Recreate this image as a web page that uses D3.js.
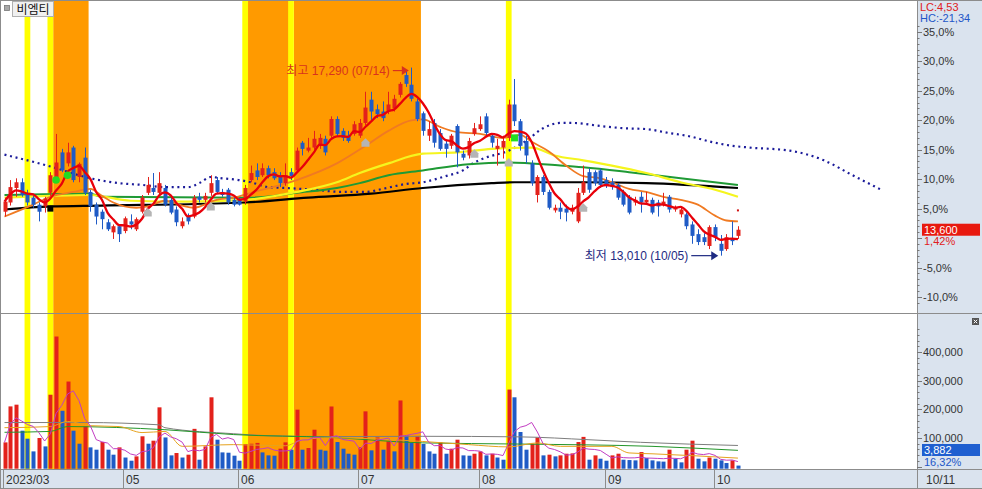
<!DOCTYPE html>
<html><head><meta charset="utf-8">
<script src="https://cdn.jsdelivr.net/npm/d3@7/dist/d3.min.js"></script>
<style>
html,body{margin:0;padding:0;background:#fff;overflow:hidden}
svg{display:block;font-family:"Liberation Sans","Noto Sans CJK KR",sans-serif}
</style></head><body>
<svg id="chart" width="982" height="489"></svg>
<script>
// ---------------- DATA ----------------
const stockName = "비엠티";
const candleOpen = [14010,14220,14550,14680,14440,14330,14170,14130,14440,14770,15360,15110,15470,14800,15240,14460,14170,14010,13770,13540,13680,13570,13790,13610,14010,14440,14550,14440,14550,14280,14060,13680,13900,13900,14350,14280,14440,14730,14460,14510,14280,14280,14240,14730,14950,14840,15000,14910,14840,14660,14910,14950,15580,15400,15470,15510,15670,15740,16120,15850,15740,15780,15740,16030,16560,16340,16290,16290,16360,16670,17120,16900,16520,16250,15740,16030,15800,15560,15510,15960,15330,15290,15780,15890,16180,15740,15440,15470,15690,16450,16070,15620,15110,14390,14800,14460,14040,14100,14080,14010,13790,14440,14910,14910,14950,14730,14680,14620,14460,14350,14220,14350,14220,14280,14220,14170,14350,14060,13950,13950,13720,13500,13430,13230,13660,13280,13160,13390,13460];
const candleHigh = [14330,14730,14770,14770,14510,14370,14220,14350,14910,15780,15440,15580,15510,15130,15470,14510,14220,14060,13840,13720,13720,13900,13950,13880,14390,14800,14890,14910,14620,14330,14130,13880,13970,14390,14440,14440,14840,14800,14530,14550,14330,14330,14620,15060,15110,15110,15060,15000,14910,15110,15000,15470,15620,15690,15850,15780,15740,16180,16180,15910,15850,16070,16120,16740,16740,16450,16520,16740,16670,16960,17230,17290,16580,16290,16070,16120,15890,15620,15780,16000,15400,15690,16030,16180,16250,15800,15670,15740,16560,17030,16120,15740,15180,14840,14840,14510,14170,14220,14170,14170,14550,15060,15000,14950,15000,14800,14770,14660,14510,14390,14350,14460,14460,14330,14280,14440,14390,14150,14100,13990,13790,13610,13520,13700,13720,13480,13500,13790,13680];
const candleLow = [13900,14150,14350,14350,14150,14100,13790,13990,14370,14730,14910,15040,14680,14680,14390,14010,13720,13610,13570,13390,13320,13520,13610,13570,13970,14390,14390,14390,14130,13950,13680,13630,13720,13860,14220,14220,14370,14420,14350,14170,14130,14150,14170,14680,14730,14800,14770,14730,14570,14600,14730,14910,15290,15360,15420,15440,15290,15690,15710,15620,15580,15740,15690,15980,16070,16140,16070,16230,16290,16610,16850,16520,16070,15740,15620,15470,15400,15240,15440,15020,15180,15220,15740,15850,15740,15470,15060,15220,15620,15960,15400,15110,14600,14220,14390,14060,13990,13840,13790,13950,13750,14390,14440,14600,14550,14550,14510,14280,14130,13950,14150,13990,14170,13950,13900,14130,13990,14010,13880,13610,13280,13250,13250,13160,13340,13010,13120,13250,13390];
const candleClose = [14240,14570,14680,14390,14220,14170,14010,14310,14840,15130,14950,15360,14730,15100,14440,14130,13900,13840,13610,13680,13500,13860,13720,13840,14330,14620,14460,14660,14170,13990,13770,13790,13790,14330,14280,14370,14660,14460,14390,14220,14170,14170,14550,14890,14800,15000,14840,14770,14660,14840,14820,15400,15440,15470,15670,15690,15360,16120,15780,15690,15620,16000,16030,16380,16290,16230,16140,16450,16580,16920,16920,16580,16120,15850,15890,15580,15440,15440,15740,15360,15240,15620,15910,16000,15800,15580,15510,15620,16450,16070,15510,15290,14660,14800,14460,14100,14100,14010,13990,14100,14440,14680,14510,14660,14620,14620,14570,14330,14170,13990,14280,14220,14280,13990,14130,14240,14060,14100,14060,13680,13460,13320,13320,13660,13430,13120,13430,13340,13600];
const volume = [84800,210300,216300,125600,97700,53400,100100,70800,251000,454000,195000,297000,125600,80200,140000,67400,59300,86000,59300,41900,67400,32000,20900,36000,106000,80200,90700,207000,102000,39500,47700,32000,41900,132000,24400,70800,242000,94200,49900,48800,38400,20900,79200,80100,83000,49900,39500,38400,62800,84800,59300,199000,59300,65100,129000,59300,55800,210000,86000,62800,45300,41900,67400,193000,57000,102000,59300,88400,53400,231000,109000,82600,106000,79200,53400,45300,84800,45300,62800,94200,39500,38400,45300,53400,39500,45300,32000,24400,269000,242000,121000,59300,80200,102000,39500,41900,36000,39500,45300,46400,86000,104000,24400,39500,27900,20900,39500,45300,24400,23200,22100,51100,30200,22100,18600,17700,59300,27900,15100,59300,90700,27900,18600,32000,27900,22100,12800,22100,3882];

// month ticks (trading-day index, label)
const monthTickIdx = [0,21,41,62,83,105,124];
const monthTickLabels = ["2023/03","05","06","07","08","09","10"];
const lastDateLabel = "10/11";

// moving averages (day index, price)
const ma20Idx = [0,5,8,12,15,17,19,23,25,28,31,33,37,40,43,51,58,63,67,71,73,76,79,83,87,90,92,95,98,101,104,106,109,112,115,118,121,124,126,128];
const ma20Val = [13900,14170,14350,14460,14530,14370,14220,14100,14130,14260,14150,14100,14280,14330,14440,14730,15110,15510,15850,16090,16110,15940,15820,15780,15690,15760,15600,15380,15060,14820,14770,14680,14530,14460,14350,14280,14170,13920,13810,13790];
const ma60Idx = [0,8,15,22,32,42,51,58,62,67,73,79,85,92,96,101,106,112,118,124,128];
const ma60Val = [14330,14370,14390,14260,14240,14280,14460,14680,14890,15110,15330,15360,15440,15470,15290,15180,15060,14890,14680,14510,14350];
const ma120Idx = [0,15,17,43,51,58,62,67,73,81,88,97,101,109,118,128];
const ma120Val = [14390,14420,14350,14330,14440,14550,14660,14840,14950,15090,15130,15060,15020,14910,14770,14620];
const ma240Idx = [0,8,17,42,53,64,73,85,89,101,112,128];
const ma240Val = [14060,14130,14150,14220,14330,14420,14550,14660,14680,14680,14660,14550];
const leadIdx = [0,8,15,20,24,28,32,34,36,38,41,43,46,49,54,59,63,66,70,73,77,80,82,84,88,91,94,97,99,104,108,112,116,119,124,127,130,137,143,148,153];
const leadVal = [15310,15040,14770,14660,14620,14570,14570,14660,14800,14770,14730,14680,14570,14550,14510,14460,14460,14530,14640,14680,14820,14950,15130,15240,15400,15620,15910,16030,16030,15960,15910,15890,15800,15740,15580,15510,15470,15400,15180,14840,14510];

// volume moving averages
const volGrayIdx = [0,14,27,28,40,46,57,73,90,102,111,128];
const volGrayVal = [154000,154000,146000,136000,115000,108000,105000,106000,104000,94000,85000,74000];
const volGreenIdx = [0,8,11,28,40,57,73,90,113,128];
const volGreenVal = [120000,123000,140000,129000,112000,102000,83000,79000,71000,57000];
const volGoldIdx = [0,8,11,15,20,24,28,31,40,49,52,57,73,81,88,93,97,106,109,113,128];
const volGoldVal = [136000,140000,158000,143000,140000,119000,123000,71000,77000,73000,94000,101000,88000,77000,69000,83000,71000,71000,48000,45000,30000];

// signal bands
const yellowBandIdx = [4,8,42,50,88];
const orangeBandStart = [9,43,51];
const orangeBandEnd = [14,49,72];

// markers
const greenDotIdx = [9,11], greenDotPrice = [14730,14840];
const greenSquareIdx = [89], greenSquarePrice = [15690];
const blackSquareIdx = [8], blackSquarePrice = [14080];
const grayArrowIdx = [25,36,63,82,88,101];
const grayArrowPrice = [13990,14130,15580,15330,15130,14100];
const redDotIdx = [128], redDotPrice = [14040];

// annotations / labels
const highIdx = 71, highPrice = 17290, highLabel = "최고 17,290 (07/14)";
const lowIdx = 125, lowPrice = 13010, lowLabel = "최저 13,010 (10/05)";
const basePrice = 13410;
const pctTicks = [-10,-5,0,5,10,15,20,25,30,35];
const volTicks = [100000,200000,300000,400000];
const lcLabel = "LC:4,53", hcLabel = "HC:-21,34";
const lastPriceLabel = "13,600", lastPctLabel = "1,42%";
const lastVolLabel = "3,882", lastVolPctLabel = "16,32%";

// ---------------- DRAW ----------------
const svg = d3.select("#chart");
const W = 982, H = 489, plotR = 917, mainTop = 1, mainBot = 313, volTop = 314, volBot = 469;
const panelBg = "#dae3ee";
const upC = "#e3211b", dnC = "#1f5bc6";

const x = d3.scaleLinear().domain([0,128]).range([4.5, 4.5+128*5.73]);
const step = x(1)-x(0);
const yPct = d3.scaleLinear().domain([-10,30]).range([297,61.3]);
const yP = p => yPct((p/basePrice-1)*100);
const yV = d3.scaleLinear().domain([0,400000]).range([466.7,352]);

svg.append("rect").attr("width",W).attr("height",H).attr("fill","#fff");

const defs = svg.append("defs");
defs.append("clipPath").attr("id","cm").append("rect").attr("x",1).attr("y",mainTop).attr("width",plotR-1).attr("height",mainBot-mainTop);
defs.append("clipPath").attr("id","cv").append("rect").attr("x",1).attr("y",volTop).attr("width",plotR-1).attr("height",volBot-volTop);

// bands
const bands = svg.append("g");
orangeBandStart.forEach((s,k)=>{
  bands.append("rect").attr("x",x(s)-step/2).attr("y",mainTop).attr("width",x(orangeBandEnd[k])-x(s)+step+1).attr("height",volBot-mainTop).attr("fill","#ff9a00");
});
yellowBandIdx.forEach(i=>{
  bands.append("rect").attr("x",x(i)-step/2).attr("y",mainTop).attr("width",step).attr("height",volBot-mainTop).attr("fill","#ffff00");
});

// panels background (axis)
svg.append("rect").attr("x",plotR).attr("y",0).attr("width",W-plotR).attr("height",H).attr("fill",panelBg);
svg.append("rect").attr("x",0).attr("y",volBot).attr("width",plotR).attr("height",H-volBot).attr("fill",panelBg);

// ---- main panel ----
const gm = svg.append("g").attr("clip-path","url(#cm)");
const pl = (idx, vals, yf) => d3.line().x((d,k)=>x(idx[k])).y((d,k)=>yf(vals[k])).curve(d3.curveMonotoneX)(vals);

gm.append("path").attr("d",pl(leadIdx,leadVal,yP)).attr("fill","none").attr("stroke","#1b1b9a").attr("stroke-width",2.2).attr("stroke-dasharray","2,3.7");
gm.append("path").attr("d",pl(ma240Idx,ma240Val,yP)).attr("fill","none").attr("stroke","#000").attr("stroke-width",2.2);
gm.append("path").attr("d",pl(ma120Idx,ma120Val,yP)).attr("fill","none").attr("stroke","#1f9a35").attr("stroke-width",2);
gm.append("path").attr("d",pl(ma60Idx,ma60Val,yP)).attr("fill","none").attr("stroke","#f5f51e").attr("stroke-width",2.2);
gm.append("path").attr("d",pl(ma20Idx,ma20Val,yP)).attr("fill","none").attr("stroke","#f07a22").attr("stroke-width",1.8);

// candles
const idxAll = d3.range(candleClose.length);
const cg = gm.append("g");
idxAll.forEach(i=>{
  const up = candleClose[i] >= candleOpen[i];
  const col = up ? upC : dnC;
  const cx = Math.round(x(i))+0.5;
  cg.append("line").attr("x1",cx).attr("x2",cx).attr("y1",yP(candleHigh[i])).attr("y2",yP(candleLow[i])).attr("stroke",col).attr("stroke-width",1);
  const y0 = yP(Math.max(candleOpen[i],candleClose[i])), y1 = yP(Math.min(candleOpen[i],candleClose[i]));
  cg.append("rect").attr("x",cx-2).attr("y",y0).attr("width",4).attr("height",Math.max(1.2,y1-y0)).attr("fill",col);
});

// MA5 from closes
const ma5 = idxAll.map(i=>d3.mean(candleClose.slice(Math.max(0,i-4),i+1)));
gm.append("path").attr("d",pl(idxAll,ma5,yP)).attr("fill","none").attr("stroke","#e8000a").attr("stroke-width",2.3);

// markers
greenDotIdx.forEach((i,k)=>gm.append("circle").attr("cx",x(i)).attr("cy",yP(greenDotPrice[k])).attr("r",3.8).attr("fill","#22dd22"));
greenSquareIdx.forEach((i,k)=>gm.append("rect").attr("x",x(i)-3.5).attr("y",yP(greenSquarePrice[k])-3.5).attr("width",7).attr("height",7).attr("fill","#22dd22"));
blackSquareIdx.forEach((i,k)=>gm.append("rect").attr("x",x(i)-3).attr("y",yP(blackSquarePrice[k])-3).attr("width",6).attr("height",6).attr("fill","#000"));
grayArrowIdx.forEach((i,k)=>gm.append("path").attr("d","M-4,4L-4,-0.5L0,-4.5L4,-0.5L4,4Z").attr("transform",`translate(${x(i)},${yP(grayArrowPrice[k])})`).attr("fill","#b5b5b5"));
redDotIdx.forEach((i,k)=>gm.append("rect").attr("x",x(i)-1).attr("y",yP(redDotPrice[k])-1).attr("width",2).attr("height",2).attr("fill","#d01010"));

// annotations
function annot(idx, price, label, col, dy, len){
  const tipX = x(idx)-2.5, ty = yP(price)+dy;
  const g = gm.append("g");
  g.append("line").attr("x1",tipX-len).attr("x2",tipX-6).attr("y1",ty).attr("y2",ty).attr("stroke",col).attr("stroke-width",1.2);
  g.append("path").attr("d",`M${tipX},${ty}L${tipX-7},${ty-4.5}L${tipX-7},${ty+4.5}Z`).attr("fill",col);
  g.append("text").attr("x",tipX-len-3).attr("y",ty).attr("text-anchor","end").attr("dominant-baseline","central").attr("font-size",12).attr("fill",col).text(label);
}
annot(highIdx, highPrice, highLabel, "#d8321e", 3, 16);
annot(lowIdx, lowPrice, lowLabel, "#1e2a82", 0, 27);

// name label
svg.append("rect").attr("x",4.5).attr("y",5.5).attr("width",5).attr("height",5).attr("fill","#a8a8a8").attr("stroke","#777").attr("stroke-width",0.8);
svg.append("rect").attr("x",12.5).attr("y",1.5).attr("width",41).attr("height",15).attr("fill","#f0f0f0").attr("stroke","#b0b0b0");
svg.append("text").attr("x",33).attr("y",9.5).attr("text-anchor","middle").attr("dominant-baseline","central").attr("font-size",12).attr("fill","#111").text(stockName);

// ---- volume panel ----
const gv = svg.append("g").attr("clip-path","url(#cv)");
idxAll.forEach(i=>{
  const up = i===0 ? true : volume[i] >= volume[i-1];
  const cx = Math.round(x(i))+0.5;
  gv.append("rect").attr("x",cx-2).attr("y",yV(volume[i])).attr("width",4).attr("height",Math.max(0.5,yV(0)-yV(volume[i])+2)).attr("fill",up?upC:dnC);
});
const vma5 = idxAll.map(i=>d3.mean(volume.slice(Math.max(0,i-4),i+1)));
const vl = (idx,vals,col)=>gv.append("path").attr("d",pl(idx,vals,yV)).attr("fill","none").attr("stroke",col).attr("stroke-width",1);
vl(volGrayIdx,volGrayVal,"#7d7d7d");
vl(volGreenIdx,volGreenVal,"#23952a");
vl(volGoldIdx,volGoldVal,"#e6a21e");
gv.append("path").attr("d",d3.line().x((d,k)=>x(k)).y(d=>yV(d))(vma5)).attr("fill","none").attr("stroke","#c23cc2").attr("stroke-width",1);

// ---- frame lines ----
const fr = svg.append("g").attr("stroke","#8c8c8c").attr("stroke-width",1);
fr.append("line").attr("x1",0).attr("x2",W).attr("y1",0.5).attr("y2",0.5);
fr.append("line").attr("x1",0.5).attr("x2",0.5).attr("y1",0).attr("y2",H);
fr.append("line").attr("x1",0).attr("x2",W).attr("y1",mainBot+0.5).attr("y2",mainBot+0.5);
fr.append("line").attr("x1",0).attr("x2",W).attr("y1",volBot+0.5).attr("y2",volBot+0.5);
fr.append("line").attr("x1",plotR+0.5).attr("x2",plotR+0.5).attr("y1",0).attr("y2",H);
fr.append("line").attr("x1",0).attr("x2",W).attr("y1",H-0.5).attr("y2",H-0.5);

// ---- price axis ----
const ax = svg.append("g");
d3.range(-11,37).forEach(p=>{
  const yy = Math.round(yPct(p))+0.5;
  if (yy < 2 || yy > mainBot-1) return;
  const major = p%5===0;
  ax.append("line").attr("x1",plotR).attr("x2",plotR+(major?5:2.5)).attr("y1",yy).attr("y2",yy).attr("stroke","#777");
});
pctTicks.filter(p=>p!==0).forEach(p=>{
  ax.append("text").attr("x",plotR+6).attr("y",yPct(p)).attr("dominant-baseline","central").attr("font-size",11).attr("fill","#333")
    .text(p.toFixed(1).replace(".",",")+"%");
});
ax.append("rect").attr("x",plotR+1).attr("y",1).attr("width",W-plotR-1).attr("height",23).attr("fill",panelBg);
ax.append("text").attr("x",plotR+3).attr("y",7).attr("dominant-baseline","central").attr("font-size",11).attr("fill","#e02020").text(lcLabel);
ax.append("text").attr("x",plotR+3).attr("y",17.5).attr("dominant-baseline","central").attr("font-size",11).attr("fill","#2256c8").text(hcLabel);
const lastY = yP(candleClose[candleClose.length-1]);
ax.append("rect").attr("x",plotR+5).attr("y",lastY-6).attr("width",W-plotR-7).attr("height",12).attr("fill","#e8190f");
ax.append("text").attr("x",plotR+7).attr("y",lastY).attr("dominant-baseline","central").attr("font-size",11).attr("fill","#fff").text(lastPriceLabel);
ax.append("text").attr("x",plotR+7).attr("y",lastY+11.5).attr("dominant-baseline","central").attr("font-size",11).attr("fill","#e02020").text(lastPctLabel);

// ---- volume axis ----
d3.range(0,540000,20000).forEach(v=>{
  const yy = Math.round(yV(v))+0.5;
  if (yy < volTop+12 || yy > volBot-1) return;
  const major = v%100000===0;
  ax.append("line").attr("x1",plotR).attr("x2",plotR+(major?5:2.5)).attr("y1",yy).attr("y2",yy).attr("stroke","#777");
});
volTicks.forEach(v=>{
  ax.append("text").attr("x",plotR+6).attr("y",yV(v)).attr("dominant-baseline","central").attr("font-size",11).attr("fill","#333").text(d3.format(",")(v));
});
ax.append("rect").attr("x",plotR+5).attr("y",444).attr("width",W-plotR-7).attr("height",12).attr("fill","#1f5fd0");
ax.append("text").attr("x",plotR+7).attr("y",450).attr("dominant-baseline","central").attr("font-size",11).attr("fill","#fff").text(lastVolLabel);
ax.append("text").attr("x",plotR+7).attr("y",462).attr("dominant-baseline","central").attr("font-size",11).attr("fill","#2256c8").text(lastVolPctLabel);
// close icon
ax.append("rect").attr("x",972).attr("y",318).attr("width",7).attr("height",7).attr("fill","#555");
ax.append("path").attr("d","M973.8,319.8L977.2,323.2M977.2,319.8L973.8,323.2").attr("stroke","#fff").attr("stroke-width",1);

// ---- time axis ----
monthTickIdx.forEach((i,k)=>{
  const tx = Math.round(x(i)-1.5)+0.5;
  ax.append("line").attr("x1",tx).attr("x2",tx).attr("y1",volBot).attr("y2",H).attr("stroke","#8c8c8c");
  ax.append("text").attr("x",tx+2.5).attr("y",480).attr("dominant-baseline","central").attr("font-size",12).attr("fill","#333").text(monthTickLabels[k]);
});
ax.append("text").attr("x",plotR+9).attr("y",480).attr("dominant-baseline","central").attr("font-size",12).attr("fill","#333").text(lastDateLabel);
</script>
</body></html>
